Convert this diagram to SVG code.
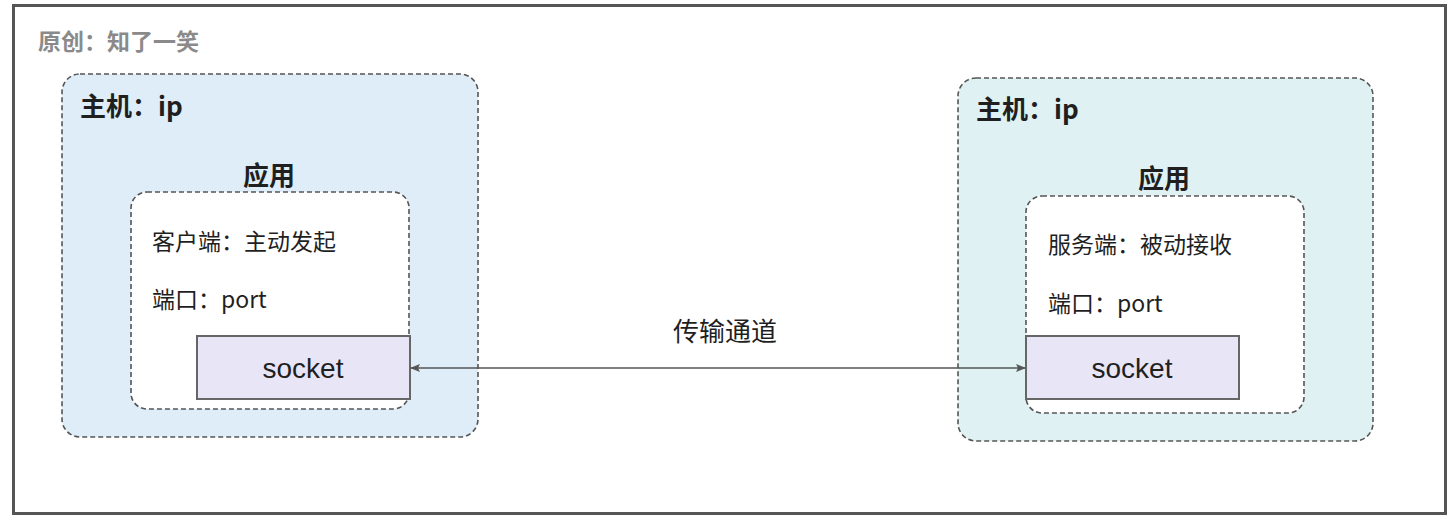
<svg xmlns="http://www.w3.org/2000/svg" width="1456" height="520" viewBox="0 0 1456 520">
<style>
text{font-family:"Noto Sans CJK SC","Liberation Sans",sans-serif;fill:#1f1f1f}
.host{stroke:#555;stroke-width:1.6;stroke-dasharray:5 3}
.app{fill:#fff;stroke:#555;stroke-width:1.6;stroke-dasharray:5 3}
.sock{fill:#e8e5f7;stroke:#666;stroke-width:2}
.h{font-size:26px;font-weight:bold}
.t{font-size:23px}
.s{font-size:28px;text-anchor:middle;font-family:"Liberation Sans","Noto Sans CJK SC",sans-serif}
</style>
<defs>
<marker id="arr" viewBox="0 0 10 10" refX="9" refY="5" markerWidth="10" markerHeight="10" markerUnits="userSpaceOnUse" orient="auto-start-reverse">
<path d="M0,1 L10,5 L0,9 L2,5 Z" fill="#555"/>
</marker>
</defs>
<rect x="0" y="0" width="1456" height="520" fill="#fff"/>
<rect x="13.5" y="5.5" width="1432" height="508" fill="none" stroke="#555" stroke-width="3"/>
<text x="38" y="50" font-size="23" font-weight="bold" style="fill:#8a8a8a">原创：知了一笑</text>
<g id="host-left">
<rect class="host" x="62" y="74" width="416" height="363" rx="18" fill="#deedf8"/>
<text class="h" x="80" y="116">主机：ip</text>
<text class="h" x="269" y="185" text-anchor="middle">应用</text>
</g>
<g id="app-left">
<rect class="app" x="131" y="192" width="278" height="217" rx="16"/>
<text class="t" x="152" y="250">客户端：主动发起</text>
<text class="t" x="152" y="308">端口：port</text>
</g>
<g id="socket-left">
<rect class="sock" x="197" y="336" width="213" height="63"/>
<text class="s" x="303" y="378">socket</text>
</g>
<g id="host-right">
<rect class="host" x="958" y="78" width="415" height="363" rx="18" fill="#dff1f2"/>
<text class="h" x="976" y="119">主机：ip</text>
<text class="h" x="1164" y="188" text-anchor="middle">应用</text>
</g>
<g id="app-right">
<rect class="app" x="1026" y="196" width="278" height="217" rx="16"/>
<text class="t" x="1048" y="253">服务端：被动接收</text>
<text class="t" x="1048" y="312">端口：port</text>
</g>
<g id="socket-right">
<rect class="sock" x="1026" y="336" width="213" height="63"/>
<text class="s" x="1132" y="378">socket</text>
</g>
<g id="connectors">
<line x1="411" y1="368" x2="1025" y2="368" stroke="#555" stroke-width="1.6" marker-start="url(#arr)" marker-end="url(#arr)"/>
<text x="725" y="341" font-size="26" text-anchor="middle">传输通道</text>
</g>
</svg>
